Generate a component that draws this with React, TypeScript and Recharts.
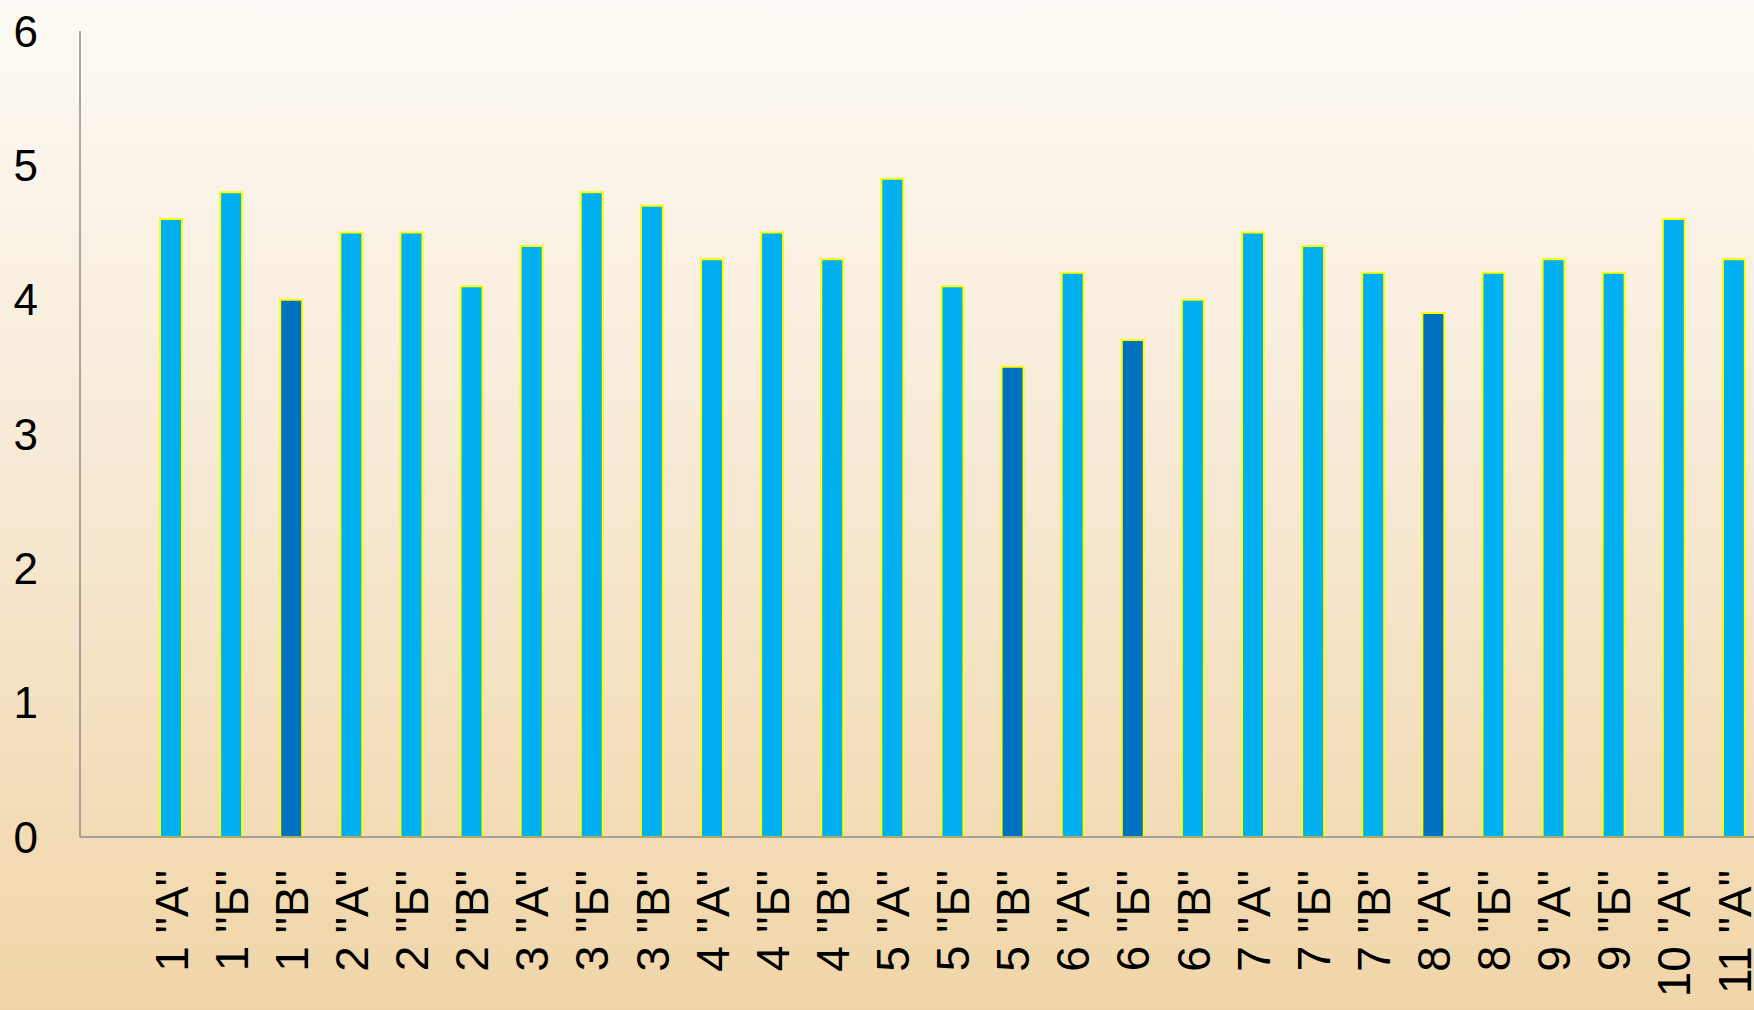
import { BarChart, Bar, XAxis, YAxis, Cell } from 'recharts';

// class names along the x axis
const classes = [
  '1 "А"', '1 "Б"', '1 "В"', '2 "А"', '2 "Б"', '2 "В"', '3 "А"', '3 "Б"', '3 "В"',
  '4 "А"', '4 "Б"', '4 "В"', '5 "А"', '5 "Б"', '5 "В"', '6 "А"', '6 "Б"', '6 "В"',
  '7 "А"', '7 "Б"', '7 "В"', '8 "А"', '8 "Б"', '9 "А"', '9 "Б"', '10 "А"', '11 "А"',
];

// average score per class
const scores = [
  4.6, 4.8, 4.0, 4.5, 4.5, 4.1, 4.4, 4.8, 4.7,
  4.3, 4.5, 4.3, 4.9, 4.1, 3.5, 4.2, 3.7, 4.0,
  4.5, 4.4, 4.2, 3.9, 4.2, 4.3, 4.2, 4.6, 4.3,
];

// classes drawn in the darker blue
const highlighted = ['1 "В"', '5 "В"', '6 "Б"', '8 "А"'];

const yTicks = [0, 1, 2, 3, 4, 5, 6];

const data = classes.map((name, i) => ({ name, score: scores[i] }));

const FONT = '"Liberation Sans", Arial, sans-serif';

const ClassTick = (props: any) => {
  const { x, y, payload } = props;
  return (
    <text
      transform={`translate(${x},${y + 31}) rotate(-90)`}
      textAnchor="end"
      dy="0.36em"
      fontSize={46}
      fontFamily={FONT}
      fill="#000"
    >
      {payload.value}
    </text>
  );
};

const App = () => {
  return (
    <div
      style={{
        position: 'absolute',
        left: 0,
        top: 0,
        width: 1754,
        height: 1010,
        overflow: 'hidden',
        background: 'linear-gradient(to bottom, #fdfaf5 0%, #f7ead6 45%, #f0d5a7 100%)',
      }}
    >
      <BarChart
        width={1800}
        height={1010}
        data={data}
        margin={{ top: 31, right: 0, bottom: 0, left: 0 }}
      >
        <YAxis
          width={80}
          domain={[0, 6]}
          ticks={yTicks}
          tickLine={false}
          tickSize={0}
          tickMargin={42}
          axisLine={{ stroke: '#8c8c8c', strokeWidth: 1.5 }}
          tick={{ fontSize: 44, fontFamily: FONT, fill: '#000' }}
        />
        <XAxis
          dataKey="name"
          height={173}
          interval={0}
          tickLine={false}
          tickSize={0}
          padding={{ left: 61, right: 36 }}
          axisLine={{ stroke: '#8c8c8c', strokeWidth: 1.5 }}
          tick={<ClassTick />}
        />
        <Bar dataKey="score" barSize={22} stroke="#ffff00" strokeWidth={2} isAnimationActive={false}>
          {data.map((d) => (
            <Cell key={d.name} fill={highlighted.includes(d.name) ? '#0070c0' : '#00b0f0'} />
          ))}
        </Bar>
      </BarChart>
    </div>
  );
};

export default App;
